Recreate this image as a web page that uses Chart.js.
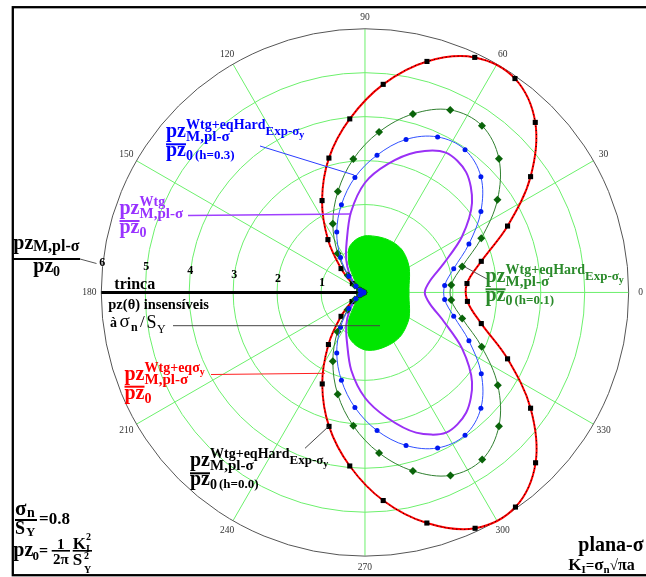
<!DOCTYPE html>
<html>
<head>
<meta charset="utf-8">
<script src="https://cdn.jsdelivr.net/npm/chart.js"></script>
<style>
  html, body { margin: 0; padding: 0; background: #fff; }
  #wrap { width: 646px; height: 577px; position: relative; }
</style>
</head>
<body>
<div id="wrap"><canvas id="polarChart"></canvas></div>
<script>
// angles in degrees, radii in units of pz0
const markAngles = [-175, -165, -155, -145, -135, -125, -115, -105, -95, -85, -75, -65, -55, -45, -35, -25, -15, -5,
                    5, 15, 25, 35, 45, 55, 65, 75, 85, 95, 105, 115, 125, 135, 145, 155, 165, 175];
// Wtg+eq sigma_y (the h=0.0 hardening curve lies on top of it)
const rEqSy = [0.03, 0.07, 0.15, 0.36, 0.77, 1.45, 2.30, 3.16, 3.97, 4.76, 5.44, 5.93, 5.97, 5.49, 4.60, 3.58, 2.74, 2.34,
               2.33, 2.74, 3.58, 4.60, 5.48, 5.95, 5.91, 5.45, 4.76, 3.97, 3.17, 2.31, 1.47, 0.77, 0.35, 0.15, 0.07, 0.03];
// Wtg+eqHard, h = 0.1
const rHard01 = [0.03, 0.06, 0.13, 0.28, 0.56, 1.09, 1.73, 2.40, 3.05, 3.67, 4.21, 4.60, 4.65, 4.31, 3.69, 2.93, 2.29, 1.97,
                 1.97, 2.29, 2.92, 3.68, 4.31, 4.64, 4.59, 4.21, 3.67, 3.05, 2.38, 1.73, 1.08, 0.55, 0.28, 0.13, 0.06, 0.03];
// Wtg+eqHard, h = 0.3
const rHard03 = [0.03, 0.06, 0.12, 0.25, 0.52, 0.97, 1.52, 2.07, 2.63, 3.16, 3.61, 3.91, 3.97, 3.73, 3.23, 2.61, 2.09, 1.82,
                 1.82, 2.09, 2.61, 3.22, 3.73, 3.97, 3.91, 3.61, 3.14, 2.63, 2.07, 1.52, 0.97, 0.52, 0.25, 0.12, 0.06, 0.03];

const fullAngles = [-180, -170, -160, -150, -140, -130, -120, -110, -100, -90, -80, -70, -60, -50, -40, -30, -20, -10, 0,
                    10, 20, 30, 40, 50, 60, 70, 80, 90, 100, 110, 120, 130, 140, 150, 160, 170, 180];
// Wtg only
const rWtg = [0, 0.03, 0.07, 0.16, 0.32, 0.55, 0.85, 1.20, 1.80, 2.40, 2.90, 3.40, 3.69, 3.58, 3.18, 2.55, 1.90, 1.50, 1.36,
              1.50, 1.90, 2.55, 3.18, 3.58, 3.68, 3.40, 2.97, 2.50, 1.85, 1.22, 0.85, 0.55, 0.32, 0.16, 0.07, 0.03, 0];
// region where pz(theta) does not depend on sigma_n/S_Y
const rInsens = [0, 0.01, 0.03, 0.08, 0.18, 0.37, 0.75, 1.07, 1.22, 1.31, 1.33, 1.32, 1.31, 1.28, 1.22, 1.16, 1.08, 1.02, 1.00,
                 1.02, 1.08, 1.16, 1.23, 1.29, 1.31, 1.31, 1.30, 1.29, 1.22, 1.07, 0.72, 0.37, 0.18, 0.08, 0.03, 0.01, 0];

const ringValues = [1, 2, 3, 4, 5];
const outerRing = 6;
const spokeAngles = [0, 30, 60, 90, 120, 150, 180, 210, 240, 270, 300, 330];
const angleLabels = ['0', '30', '60', '90', '120', '150', '180', '210', '240', '270', '300', '330'];
const radialLabels = ['1', '2', '3', '4', '5', '6'];

// pixel layout of the polar origin
const CX = 365.5, CY = 292.5, UNIT = 44.5, W = 646, H = 577;

const rad = d => d * Math.PI / 180;
function polarPts(angles, radii, close) {
  const pts = angles.map((a, i) => ({ x: radii[i] * Math.cos(rad(a)), y: radii[i] * Math.sin(rad(a)) }));
  if (close) pts.push({ ...pts[0] });
  return pts;
}

const SERIF = '"Liberation Serif", "Times New Roman", serif';
function put(ctx, t, x, y, size, bold, align) {
  ctx.font = (bold ? 'bold ' : '') + size + 'px ' + SERIF;
  ctx.textAlign = align || 'left';
  ctx.fillText(t, x, y);
  return ctx.measureText(t).width;
}

// pz^{sup}_{M,pl-σ} / pz_0 (extra)
function pzLabel(ctx, o) {
  const x = o.x, b = o.bar;
  ctx.fillStyle = o.color;
  ctx.textBaseline = 'alphabetic';
  const w = put(ctx, 'pz', x, b - 7, 20, true);
  const sx = x + w;
  const ws = put(ctx, o.sup, sx, b - 15, 14, true);
  if (o.supSub) {
    const w2 = put(ctx, o.supSub, sx + ws, b - 9, 13, true);
    put(ctx, 'y', sx + ws + w2, b - 6.5, 10, true);
  }
  if (o.supY) put(ctx, 'y', sx + ws, b - 12, 10, true);
  put(ctx, 'M,pl-σ', sx, b - 3, 15, true);
  ctx.fillRect(x, b - 1, w, 2);
  put(ctx, 'pz', x, b + 12, 20, true);
  put(ctx, '0', sx, b + 16, 14, true);
  if (o.extra) put(ctx, o.extra, sx + 9, b + 15, 13, true);
}

function line(ctx, x1, y1, x2, y2, color, lw) {
  ctx.strokeStyle = color;
  ctx.lineWidth = lw || 1;
  ctx.beginPath();
  ctx.moveTo(x1, y1);
  ctx.lineTo(x2, y2);
  ctx.stroke();
}

const polarGrid = {
  id: 'polarGrid',
  beforeDatasetsDraw(chart) {
    const { ctx, scales: { x: sx, y: sy } } = chart;
    const px = v => sx.getPixelForValue(v), py = v => sy.getPixelForValue(v);
    const cx = px(0), cy = py(0), u = px(1) - cx;
    ctx.save();
    ctx.strokeStyle = '#6cf06c';
    ctx.lineWidth = 1;
    ringValues.forEach(r => {
      ctx.beginPath();
      ctx.arc(cx, cy, r * u, 0, Math.PI * 2);
      ctx.stroke();
    });
    spokeAngles.forEach(a => {
      line(ctx, cx, cy, px(outerRing * Math.cos(rad(a))), py(outerRing * Math.sin(rad(a))), '#6cf06c', 1);
    });
    ctx.strokeStyle = '#555';
    ctx.beginPath();
    ctx.arc(cx, cy, outerRing * u, 0, Math.PI * 2);
    ctx.stroke();

    // angle labels
    ctx.fillStyle = '#333';
    ctx.textBaseline = 'middle';
    const lr = outerRing + 12 / UNIT;
    spokeAngles.forEach((a, i) => {
      put(ctx, angleLabels[i], px(lr * Math.cos(rad(a))), py(lr * Math.sin(rad(a))), 9.5, false, 'center');
    });

    // crack along 180 deg
    line(ctx, px(-outerRing), cy, cx, cy, '#000', 3);

    // radial values
    ctx.fillStyle = '#000';
    radialLabels.forEach((t, i) => {
      const r = i + 1;
      put(ctx, t, px(-r) + 1, cy - (6 + 4 * r), 12, true, 'center');
    });
    ctx.restore();
  }
};

const annotations = {
  id: 'annotations',
  afterDraw(chart) {
    const ctx = chart.ctx;
    ctx.save();
    ctx.textBaseline = 'alphabetic';

    // frame
    ctx.strokeStyle = '#000';
    ctx.lineWidth = 2.3;
    ctx.strokeRect(12.8, 7.2, 800, 568);

    // leader lines
    line(ctx, 260, 146, 354, 175, '#2a3cff', 1);
    line(ctx, 188, 215.5, 350, 214, '#a040ff', 1.5);
    line(ctx, 211, 374.5, 325, 373.3, '#ff2020', 1);
    line(ctx, 305, 448.3, 328.3, 426.7, '#444', 1);
    line(ctx, 487, 279, 465, 267, '#555', 1);
    line(ctx, 173, 325.7, 380, 325.7, '#444', 1);
    line(ctx, 80, 259, 96.5, 263.5, '#555', 1);

    pzLabel(ctx, { x: 166, bar: 144.3, color: '#0000ff', sup: 'Wtg+eqHard', supSub: 'Exp-σ', extra: '(h=0.3)' });
    pzLabel(ctx, { x: 485.5, bar: 289.3, color: '#2a8a2a', sup: 'Wtg+eqHard', supSub: 'Exp-σ', extra: '(h=0.1)' });
    pzLabel(ctx, { x: 190, bar: 473.3, color: '#000', sup: 'Wtg+eqHard', supSub: 'Exp-σ', extra: '(h=0.0)' });
    pzLabel(ctx, { x: 124.5, bar: 386.7, color: '#ff0000', sup: 'Wtg+eqσ', supY: true });
    pzLabel(ctx, { x: 119.5, bar: 221, color: '#9933ff', sup: 'Wtg' });

    // axis quantity
    ctx.fillStyle = '#000';
    put(ctx, 'pz', 13.3, 249, 20, true);
    put(ctx, 'M,pl-σ', 33, 251, 16, true);
    ctx.fillRect(13.3, 258, 66.7, 2);
    put(ctx, 'pz', 33.3, 272, 20, true);
    put(ctx, '0', 53, 275.5, 14, true);

    put(ctx, 'trinca', 114.3, 288.5, 16, true);
    put(ctx, 'pz(θ) insensíveis', 108.3, 308.5, 14.5, true);
    put(ctx, 'à', 110, 327, 14, true);
    put(ctx, 'σ', 119.5, 327, 19, false);
    put(ctx, 'n', 131, 331, 12, true);
    put(ctx, '/', 140, 327, 17, false);
    put(ctx, 'S', 146.5, 328, 18, false);
    put(ctx, 'Y', 157, 333, 12, false);

    // loading and pz0
    put(ctx, 'σ', 15, 514.5, 21, true);
    put(ctx, 'n', 27, 517, 14, true);
    ctx.fillRect(15, 519, 22, 2);
    put(ctx, 'S', 15, 533.5, 18, true);
    put(ctx, 'Y', 26, 536, 13, true);
    put(ctx, '=0.8', 39, 524, 17, true);

    put(ctx, 'pz', 13.3, 556, 20, true);
    put(ctx, '0', 32.5, 560, 13, true);
    put(ctx, '=', 39, 556, 16, true);
    put(ctx, '1', 60.8, 548.5, 15, true, 'center');
    ctx.fillRect(51.7, 550, 18.3, 1.6);
    put(ctx, '2π', 60.8, 563.5, 15, true, 'center');
    put(ctx, 'K', 72.7, 548.5, 17, true);
    put(ctx, '2', 86, 539.5, 10, true);
    put(ctx, 'I', 86, 551.5, 10, true);
    ctx.fillRect(72.7, 550, 19.3, 1.6);
    put(ctx, 'S', 72.7, 565, 17, true);
    put(ctx, '2', 84, 559, 10, true);
    put(ctx, 'Y', 84, 572.5, 10, true);

    // stress state
    put(ctx, 'plana-σ', 578.3, 551, 20, true);
    let x = 568.3;
    x += put(ctx, 'K', x, 569.5, 17, true);
    x += put(ctx, 'I', x, 572.5, 11, true);
    x += put(ctx, '=', x, 569.5, 15, true);
    x += put(ctx, 'σ', x, 569.5, 17, true);
    x += put(ctx, 'n', x, 572.5, 11, true);
    x += put(ctx, '√', x, 569.5, 15, false);
    put(ctx, 'πa', x, 569.5, 16, true);
    ctx.restore();
  }
};

new Chart(document.getElementById('polarChart'), {
  type: 'scatter',
  data: {
    datasets: [
      { label: 'h=0.3', data: polarPts(markAngles, rHard03, true), showLine: true, order: 1,
        borderColor: '#3050ff', borderWidth: 1, tension: 0.35,
        pointRadius: 2.5, pointBackgroundColor: '#0018f0', pointBorderWidth: 0 },
      { label: 'h=0.1', data: polarPts(markAngles, rHard01, true), showLine: true, order: 2,
        borderColor: '#2f7f2f', borderWidth: 1, tension: 0.35,
        pointStyle: 'rectRot', pointRadius: 4, pointBackgroundColor: '#0a640a', pointBorderWidth: 0 },
      { label: 'h=0.0', data: polarPts(markAngles, rEqSy, true), showLine: true, order: 3,
        borderColor: '#000', borderWidth: 1, borderDash: [1, 3], tension: 0.35,
        pointStyle: 'rect', pointRadius: 3.6, pointBackgroundColor: '#000', pointBorderWidth: 0 },
      { label: 'Wtg+eqSy', data: polarPts(markAngles, rEqSy, true), showLine: true, order: 4,
        borderColor: '#ff0000', borderWidth: 2, tension: 0.35, pointRadius: 0 },
      { label: 'insensitive', data: polarPts(fullAngles, rInsens, false), showLine: true, order: 5,
        borderColor: '#00e600', backgroundColor: '#00e600', borderWidth: 1, fill: 'shape', tension: 0.3, pointRadius: 0 },
      { label: 'Wtg', data: polarPts(fullAngles, rWtg, false), showLine: true, order: 6,
        borderColor: '#9a30f5', borderWidth: 2, tension: 0.3, pointRadius: 0 }
    ]
  },
  options: {
    responsive: true,
    maintainAspectRatio: false,
    animation: false,
    events: [],
    layout: { padding: 0 },
    plugins: { legend: { display: false }, tooltip: { enabled: false } },
    scales: {
      x: { type: 'linear', min: -CX / UNIT, max: (W - CX) / UNIT, display: false },
      y: { type: 'linear', min: -(H - CY) / UNIT, max: CY / UNIT, display: false }
    }
  },
  plugins: [polarGrid, annotations]
});
</script>
</body>
</html>
